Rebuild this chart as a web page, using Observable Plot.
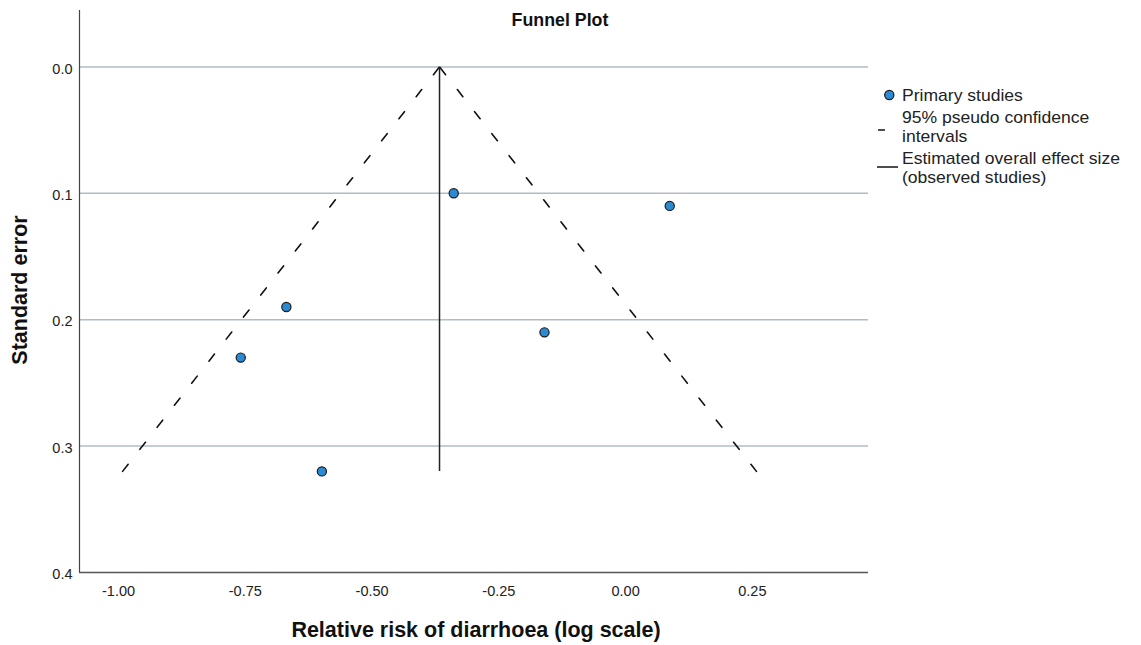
<!DOCTYPE html>
<html>
<head>
<meta charset="utf-8">
<script src="https://cdn.jsdelivr.net/npm/d3@7"></script>
<script src="https://cdn.jsdelivr.net/npm/@observablehq/plot@0.6"></script>
<style>
  html, body { margin: 0; padding: 0; background: #fff; }
  #wrap { position: relative; width: 1141px; height: 645px; font-family: "Liberation Sans", Arial, Helvetica, sans-serif; color: #111; }
  .abs { position: absolute; white-space: nowrap; }
  .ttl { font-weight: bold; }
  .leg { font-size: 16.4px; line-height: 16px; color: #222; transform-origin: left center; transform: scaleX(1.07); }
</style>
</head>
<body>
<div id="wrap"></div>
<script>
// ---- data ----
const studyEffect = [-0.339, -0.669, -0.759, -0.599, -0.160, 0.087];
const studySE     = [0.100, 0.190, 0.230, 0.320, 0.210, 0.110];

const overallEffect = -0.367;
const funnelSE    = [0, 0.32];
const funnelLower = [-0.367, -0.992];
const funnelUpper = [-0.367, 0.258];

const xTicks = [-1.00, -0.75, -0.50, -0.25, 0.00, 0.25];
const yTicks = [0.0, 0.1, 0.2, 0.3, 0.4];
const gridSE = [0.0, 0.1, 0.2, 0.3];

const xDomain = [-1.077, 0.479];
const yDomain = [-0.0446, 0.4];

const titleText = "Funnel Plot";
const xLabel = "Relative risk of diarrhoea (log scale)";
const yLabel = "Standard error";
const legendItems = ["Primary studies", "95% pseudo confidence", "intervals", "Estimated overall effect size", "(observed studies)"];

// ---- build tables ----
const studies = studyEffect.map((e, i) => ({effect: e, se: studySE[i]}));
const lowerLine = funnelSE.map((s, i) => ({effect: funnelLower[i], se: s})).reverse();
const upperLine = funnelSE.map((s, i) => ({effect: funnelUpper[i], se: s})).reverse();

const fontStack = "'Liberation Sans', Arial, Helvetica, sans-serif";

const chart = Plot.plot({
  width: 1141,
  height: 645,
  marginLeft: 79,
  marginRight: 273,
  marginTop: 10,
  marginBottom: 73,
  style: { fontFamily: fontStack, background: "#fff", color: "#222" },
  x: { domain: xDomain },
  y: { domain: yDomain, reverse: true },
  marks: [
    Plot.ruleY(gridSE, { stroke: "#b3bbc4", strokeWidth: 1.5 }),
    Plot.ruleX([xDomain[0]], { y1: yDomain[0], y2: yDomain[1], stroke: "#444", strokeWidth: 1.2 }),
    Plot.ruleY([yDomain[1]], { x1: xDomain[0], x2: xDomain[1], stroke: "#555", strokeWidth: 1.5 }),
    Plot.line(lowerLine, { x: "effect", y: "se", stroke: "#111", strokeWidth: 1.6, strokeDasharray: "9,19" }),
    Plot.line(upperLine, { x: "effect", y: "se", stroke: "#111", strokeWidth: 1.6, strokeDasharray: "9,19" }),
    Plot.ruleX([overallEffect], { y1: funnelSE[0], y2: funnelSE[1], stroke: "#222", strokeWidth: 1.5 }),
    Plot.dot(studies, { x: "effect", y: "se", r: 4.6, fill: "#2b8ad2", stroke: "#1a1a1a", strokeWidth: 1.2 }),
    Plot.axisX({ ticks: xTicks, tickSize: 0, tickPadding: 13, fontSize: 14.5, tickFormat: d => d.toFixed(2), label: null }),
    Plot.axisY({ ticks: yTicks, tickSize: 0, tickPadding: 7, fontSize: 14.5, dy: 2, tickFormat: d => d.toFixed(1), label: null })
  ]
});

const wrap = document.getElementById("wrap");
wrap.appendChild(chart);
chart.style.position = "absolute";
chart.style.left = "0px";
chart.style.top = "0px";

function addDiv(text, cls, css) {
  const d = document.createElement("div");
  d.className = "abs " + cls;
  d.textContent = text;
  Object.assign(d.style, css);
  wrap.appendChild(d);
  return d;
}

// title
addDiv(titleText, "ttl", { left: "460px", width: "200px", textAlign: "center", top: "8px", fontSize: "17.8px", lineHeight: "24px" });
// x label
addDiv(xLabel, "ttl", { left: "226px", width: "500px", textAlign: "center", top: "616px", fontSize: "21.5px", lineHeight: "28px" });
// y label
addDiv(yLabel, "ttl", { left: "-80px", width: "200px", textAlign: "center", top: "276px", fontSize: "21.5px", lineHeight: "28px", transform: "rotate(-90deg)" });

// legend
const legTexts = [
  [legendItems[0], 95],
  [legendItems[1], 117],
  [legendItems[2], 136],
  [legendItems[3], 158],
  [legendItems[4], 177]
];
legTexts.forEach(([t, cy]) => addDiv(t, "leg", { left: "902px", top: (cy - 8) + "px" }));

// legend symbols
const sym = document.createElementNS("http://www.w3.org/2000/svg", "svg");
sym.setAttribute("width", "40");
sym.setAttribute("height", "120");
sym.style.position = "absolute";
sym.style.left = "870px";
sym.style.top = "80px";
sym.innerHTML =
  '<circle cx="19.3" cy="15" r="4.6" fill="#2b8ad2" stroke="#1a1a1a" stroke-width="1.2"/>' +
  '<line x1="8" x2="15" y1="50" y2="50" stroke="#222" stroke-width="1.6"/>' +
  '<line x1="7" x2="28" y1="87" y2="87" stroke="#222" stroke-width="1.6"/>';
wrap.appendChild(sym);
</script>
</body>
</html>
